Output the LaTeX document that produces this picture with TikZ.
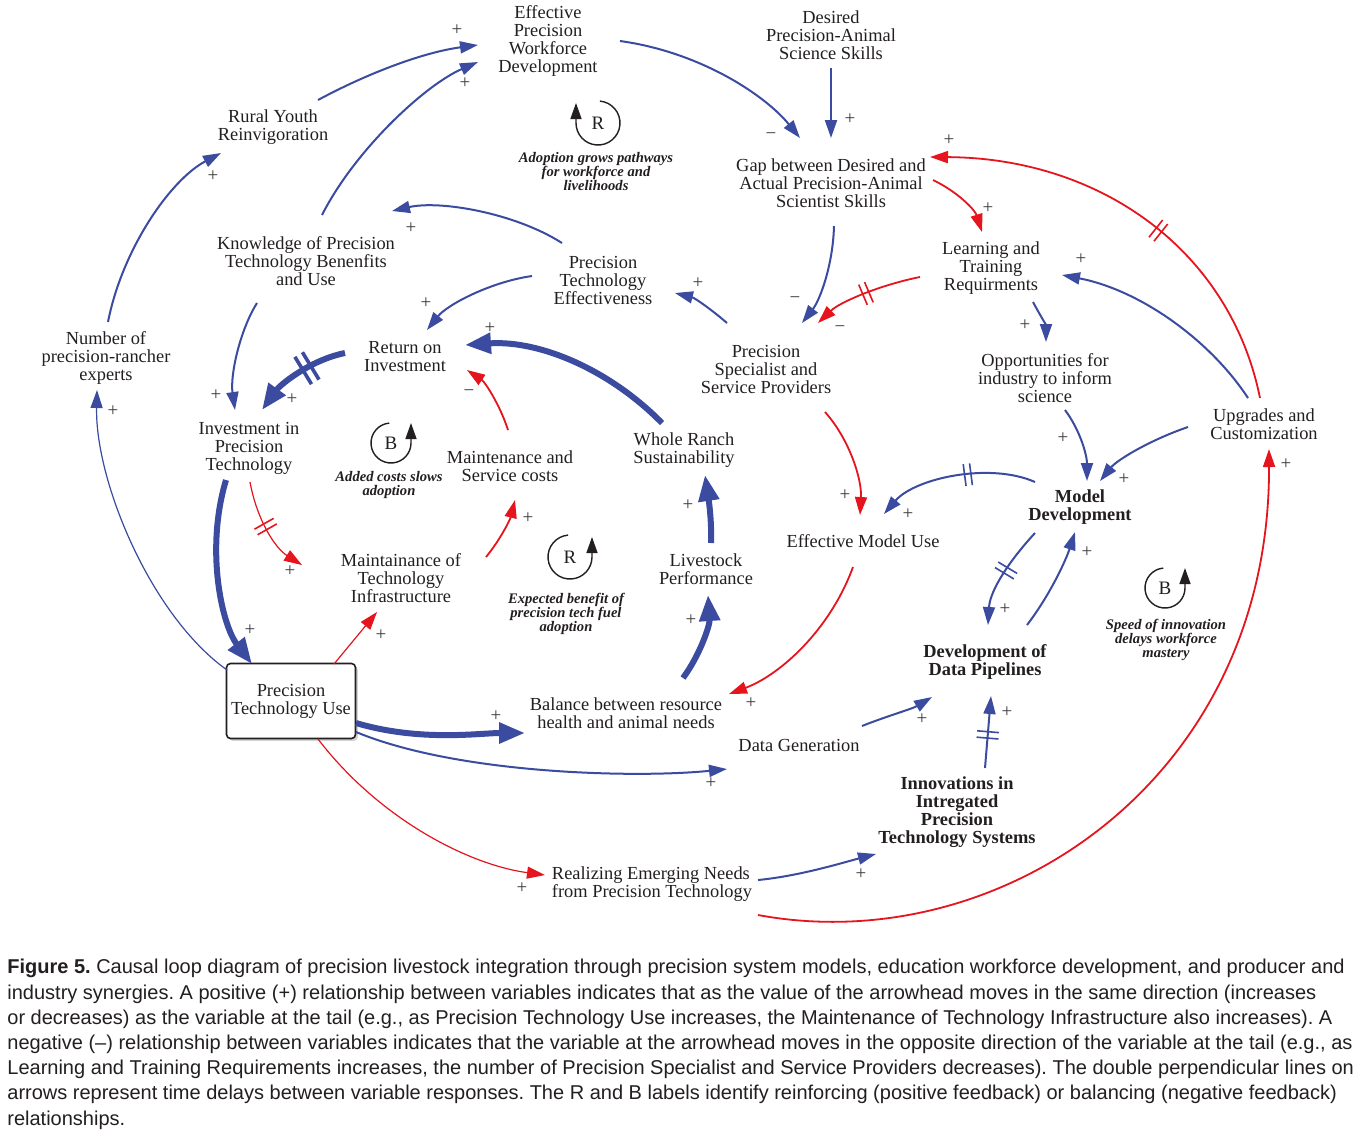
\documentclass[tikz,border=0pt]{standalone}
\usepackage{fontspec}
\setmainfont{Liberation Serif}
\newfontfamily\capfont{Liberation Sans}
\usepackage{tikz}
\usetikzlibrary{arrows.meta,calc,decorations.markings,shadows}
\definecolor{lblue}{HTML}{3B4BA0}
\definecolor{lred}{HTML}{E5141D}
\definecolor{ink}{HTML}{231F20}
\definecolor{pgrayd}{HTML}{3C3C3C}
\newcommand{\varfont}{\fontsize{9.2}{9}\selectfont}
\newcommand{\loopfont}{\fontsize{7.3}{7}\selectfont\bfseries\itshape}
\newcommand{\polfont}{\fontsize{9.5}{9.5}\selectfont}
\tikzset{
  % variables of the loop diagram
  var/.style      = {align=center, inner sep=0pt, font=\varfont, text=ink},
  bvar/.style     = {var, font=\varfont\bfseries},
  ptubox/.style   = {var, draw=ink, fill=white, line width=0.8pt, rounded corners=2pt,
                     minimum width=64.5pt, minimum height=37.5pt,
                     drop shadow={shadow xshift=1.2pt, shadow yshift=-1.2pt, fill=black!35}},
  pol/.style      = {font=\polfont, text=pgrayd, inner sep=0pt},
  % causal links
  lnk/.style      = {-{Triangle[length=9pt,width=6pt]}, line width=1pt, lblue},
  neg/.style      = {lnk, lred, line width=0.9pt},
  thinlink/.style = {line width=0.6pt},
  fat/.style      = {-{Triangle[length=13pt,width=10pt]}, line width=3pt, lblue},
  lag/.style      = {postaction={decorate, decoration={markings, mark=at position #1 with
                     {\draw[-, line width=0.8pt] (-1.6pt,-5.5pt) -- (-1.6pt,5.5pt) (1.6pt,-5.5pt) -- (1.6pt,5.5pt);}}}},
  fatlag/.style   = {postaction={decorate, decoration={markings, mark=at position #1 with
                     {\draw[-, line width=1.8pt] (-2.2pt,-8pt) -- (-2.2pt,8pt) (2.2pt,-8pt) -- (2.2pt,8pt);}}}},
  % loop markers
  looplet/.style  = {font=\fontsize{9.5}{9.5}\selectfont, text=ink, inner sep=0pt},
  loopline/.style = {-{Triangle[length=8pt,width=5.5pt]}, line width=0.7pt, ink},
  loopnote/.style = {align=center, font=\loopfont, text=ink, inner sep=0pt},
  capt/.style     = {align=left, font=\capfont\fontsize{10}{12.6}\selectfont\frenchspacing, text=ink, inner sep=0pt},
}

\begin{document}
\begin{tikzpicture}[x=0.5pt,y=-0.5pt]
\useasboundingbox (0,0) rectangle (1357,1137);
\fill[white] (0,0) rectangle (1357,1137);
% variables
\node[var] (eff) at (548,41) {Effective\\Precision\\Workforce\\Development};
\node[var] (desired) at (831,35) {Desired\\Precision-Animal\\Science Skills};
\node[var] (gap) at (831,183) {Gap between Desired and\\Actual Precision-Animal\\Scientist Skills};
\node[var] (rural) at (273,127) {Rural Youth\\Reinvigoration};
\node[var] (know) at (306,261) {Knowledge of Precision\\Technology Benenfits\\and Use};
\node[var] (pte) at (603,280) {Precision\\Technology\\Effectiveness};
\node[var] (learn) at (991,268) {Learning and\\Training\\Requirments};
\node[var] (roi) at (405,357) {Return on\\Investment};
\node[var] (psp) at (766,369) {Precision\\Specialist and\\Service Providers};
\node[var] (opp) at (1045,378) {Opportunities for\\industry to inform\\science};
\node[var] (num) at (106,358) {Number of\\precision-rancher\\experts};
\node[var] (inv) at (249,448) {Investment in\\Precision\\Technology};
\node[var] (upg) at (1264,424) {Upgrades and\\Customization};
\node[var] (whole) at (684,450) {Whole Ranch\\Sustainability};
\node[var] (maint) at (510,466) {Maintenance and\\Service costs};
\node[bvar] (model) at (1080,507) {Model\\Development};
\node[var] (emu) at (863,541) {Effective Model Use};
\node[var] (infra) at (401,578) {Maintainance of\\Technology\\Infrastructure};
\node[var] (live) at (706,569) {Livestock\\Performance};
\node[ptubox] (ptu) at (291,701) {Precision\\Technology Use};
\node[var] (balance) at (626,713) {Balance between resource\\health and animal needs};
\node[bvar] (ddp) at (985,662) {Development of\\Data Pipelines};
\node[var] (datagen) at (799,745) {Data Generation};
\node[bvar] (innov) at (957,812) {Innovations in\\Intregated\\Precision\\Technology Systems};
\node[var, align=left] (realize) at (652,884) {Realizing Emerging Needs\\from Precision Technology};

% workforce side
\draw[lnk] ($(rural)+(45,-27)$) .. controls +(52,-28) and +(-53,7) .. ($(eff)+(-70,4)$) node[pol,shift={(-21,-15)}] {+};
\draw[lnk] ($(know)+(16,-46)$) .. controls +(33,-65) and +(-53,23) .. ($(eff)+(-70,21)$) node[pol,shift={(-13,21)}] {+};
\draw[lnk] ($(num)+(2,-36)$) .. controls +(14,-72) and +(-51,27) .. ($(rural)+(-52,26)$) node[pol,shift={(-8,23)}] {+};
\draw[lnk, thinlink] ($(ptu)+(-64,-31)$) .. controls +(-77,-55) and +(-2,90) .. ($(num)+(-9,32)$) node[pol,shift={(16,21)}] {+};
\draw[lnk] ($(eff)+(72,0)$) .. controls +(80,11) and +(-35,-43) .. ($(gap)+(-31,-45)$) node[pol,shift={(-29,-2)}] {−};
\draw[lnk] ($(desired)+(0,33)$) -- ($(gap)+(0,-45)$) node[pol,shift={(19,-19)}] {+};
\draw[neg, lag=0.45] ($(upg)+(-4,-26)$) .. controls +(-30,-148) and +(170,1) .. ($(gap)+(99,-26)$) node[pol,shift={(19,-17)}] {+};
\draw[neg] ($(gap)+(102,-3)$) .. controls +(25,12) and +(-7,-22) .. ($(learn)+(-9,-36)$) node[pol,shift={(6,-24)}] {+};
\draw[neg, lag=0.5] ($(learn)+(-71,9)$) .. controls +(-40,8) and +(22,-21) .. ($(psp)+(52,-46)$) node[pol,shift={(22,6)}] {−};
\draw[lnk] ($(gap)+(3,43)$) .. controls +(-1,39) and +(18,-23) .. ($(psp)+(36,-46)$) node[pol,shift={(-7,-23)}] {−};
\draw[lnk] ($(psp)+(-39,-46)$) .. controls +(-15,-13) and +(20,5) .. ($(pte)+(72,13)$) node[pol,shift={(23,-10)}] {+};
\draw[lnk] ($(pte)+(-41,-37)$) .. controls +(-47,-30) and +(48,-11) .. ($(know)+(86,-50)$) node[pol,shift={(19,17)}] {+};
\draw[lnk] ($(pte)+(-71,-4)$) .. controls +(-42,6) and +(20,-25) .. ($(roi)+(22,-27)$) node[pol,shift={(-1,-27)}] {+};
\draw[lnk] ($(know)+(-49,42)$) .. controls +(-17,27) and +(-5,-35) .. ($(inv)+(-14,-38)$) node[pol,shift={(-19,-15)}] {+};
% adoption and costs
\draw[fat, fatlag=0.4] ($(roi)+(-60,-4)$) .. controls +(-35,7) and +(18,-25) .. ($(inv)+(13,-38)$) node[pol,shift={(30,-11)}] {+};
\draw[fat] ($(whole)+(-22,-27)$) .. controls +(-52,-53) and +(75,-5) .. ($(roi)+(60,-12)$) node[pol,shift={(25,-17)}] {+};
\draw[neg] ($(maint)+(-2,-36)$) .. controls +(-8,-25) and +(18,12) .. ($(roi)+(62,13)$) node[pol,shift={(2,23)}] {−};
\draw[fat] ($(inv)+(-23,32)$) .. controls +(-21,70) and +(-30,-39) .. ($(ptu)+(-39,-37)$) node[pol,shift={(-2,-34)}] {+};
\draw[neg, thinlink, lag=0.47] ($(inv)+(1,34)$) .. controls +(7,38) and +(-27,-17) .. ($(infra)+(-99,-13)$) node[pol,shift={(-12,6)}] {+};
\draw[neg, thinlink] ($(ptu)+(43,-37)$) -- ($(infra)+(-24,34)$) node[pol,shift={(4,23)}] {+};
\draw[neg] ($(infra)+(85,-21)$) .. controls +(14,-17) and +(-5,20) .. ($(maint)+(5,34)$) node[pol,shift={(13,18)}] {+};
\draw[fat] ($(ptu)+(65,22)$) .. controls +(64,19) and +(-45,0) .. ($(balance)+(-101,20)$) node[pol,shift={(-29,-17)}] {+};
\draw[lnk] ($(ptu)+(65,31)$) .. controls +(104,43) and +(-87,9) .. ($(datagen)+(-72,24)$) node[pol,shift={(-16,14)}] {+};
\draw[fat] ($(balance)+(57,-35)$) .. controls +(17,-23) and +(2,30) .. ($(live)+(2,26)$) node[pol,shift={(-17,25)}] {+};
\draw[fat] ($(live)+(5,-26)$) .. controls +(1,-23) and +(3,20) .. ($(whole)+(21,25)$) node[pol,shift={(-17,30)}] {+};
% models and data
\draw[neg] ($(psp)+(59,43)$) .. controls +(25,28) and +(2,-35) .. ($(emu)+(-3,-26)$) node[pol,shift={(-15,-20)}] {+};
\draw[lnk, lag=0.42] ($(model)+(-45,-25)$) .. controls +(-45,-20) and +(31,-36) .. ($(emu)+(21,-27)$) node[pol,shift={(24,0)}] {+};
\draw[neg] ($(emu)+(-10,26)$) .. controls +(-23,63) and +(51,-19) .. ($(balance)+(103,-19)$) node[pol,shift={(22,9)}] {+};
\draw[lnk] ($(opp)+(20,32)$) .. controls +(15,20) and +(0,-26) .. ($(model)+(7,-26)$) node[pol,shift={(-24,-43)}] {+};
\draw[lnk] ($(upg)+(-76,3)$) .. controls +(-38,13) and +(17,-21) .. ($(model)+(20,-26)$) node[pol,shift={(24,-2)}] {+};
\draw[lnk] ($(learn)+(42,34)$) .. controls +(7,13) and +(0,-17) .. ($(opp)+(1,-36)$) node[pol,shift={(-21,-17)}] {+};
\draw[lnk] ($(upg)+(-16,-26)$) .. controls +(-38,-58) and +(78,15) .. ($(learn)+(71,7)$) node[pol,shift={(19,-16)}] {+};
\draw[lnk, lag=0.45] ($(model)+(-45,26)$) .. controls +(-25,27) and +(2,-35) .. ($(ddp)+(3,-37)$) node[pol,shift={(17,-16)}] {+};
\draw[lnk] ($(ddp)+(42,-37)$) .. controls +(23,-30) and +(-9,28) .. ($(model)+(-5,25)$) node[pol,shift={(12,20)}] {+};
\draw[lnk] ($(datagen)+(63,-19)$) .. controls +(25,-10) and +(-20,12) .. ($(ddp)+(-53,35)$) node[pol,shift={(-10,22)}] {+};
\draw[lnk, lag=0.46] ($(innov)+(28,-44)$) -- ($(ddp)+(6,34)$) node[pol,shift={(16,16)}] {+};
\draw[neg, thinlink] ($(ptu)+(27,38)$) .. controls +(62,81) and +(-75,-10) .. ($(realize)+(-107,-9)$) node[pol,shift={(-23,13)}] {+};
\draw[lnk] ($(realize)+(106,-4)$) .. controls +(42,-4) and +(-31,8) .. ($(innov)+(-81,42)$) node[pol,shift={(-15,20)}] {+};
\draw[neg] ($(realize)+(106,31)$) .. controls +(242,45) and +(1,331) .. ($(upg)+(5,25)$) node[pol,shift={(17,15)}] {+};

% loop markers
\node[looplet] (rA) at (598,123) {R};
\draw[loopline] ([shift={(-85:22)}]rA.center) arc[start angle=-85, end angle=180, radius=22] -- ++(0,-20);
\node[loopnote] (rAnote) at (596,171) {Adoption grows pathways\\for workforce and\\livelihoods};
\node[looplet] (bA) at (391,443) {B};
\draw[loopline] ([shift={(-95:20)}]bA.center) arc[start angle=-95, end angle=-360, radius=20] -- ++(0,-20);
\node[loopnote] (bAnote) at (389,485) {Added costs slows\\adoption};
\node[looplet] (rB) at (570,557) {R};
\draw[loopline] ([shift={(-95:22)}]rB.center) arc[start angle=-95, end angle=-360, radius=22] -- ++(0,-20);
\node[loopnote] (rBnote) at (566,614) {Expected benefit of\\precision tech fuel\\adoption};
\node[looplet] (bB) at (1165,588) {B};
\draw[loopline] ([shift={(-95:20)}]bB.center) arc[start angle=-95, end angle=-360, radius=20] -- ++(0,-20);
\node[loopnote] (bBnote) at (1166,640) {Speed of innovation\\delays workforce\\mastery};

% caption
\node[capt, anchor=north west] (caption) at (7,959) {\textbf{Figure 5.} Causal loop diagram of precision livestock integration through precision system models, education workforce development, and producer and\\
industry synergies. A positive (+) relationship between variables indicates that as the value of the arrowhead moves in the same direction (increases\\
or decreases) as the variable at the tail (e.g., as Precision Technology Use increases, the Maintenance of Technology Infrastructure also increases). A\\
negative (–) relationship between variables indicates that the variable at the arrowhead moves in the opposite direction of the variable at the tail (e.g., as\\
Learning and Training Requirements increases, the number of Precision Specialist and Service Providers decreases). The double perpendicular lines on\\
arrows represent time delays between variable responses. The R and B labels identify reinforcing (positive feedback) or balancing (negative feedback)\\
relationships.};
\end{tikzpicture}
\end{document}
